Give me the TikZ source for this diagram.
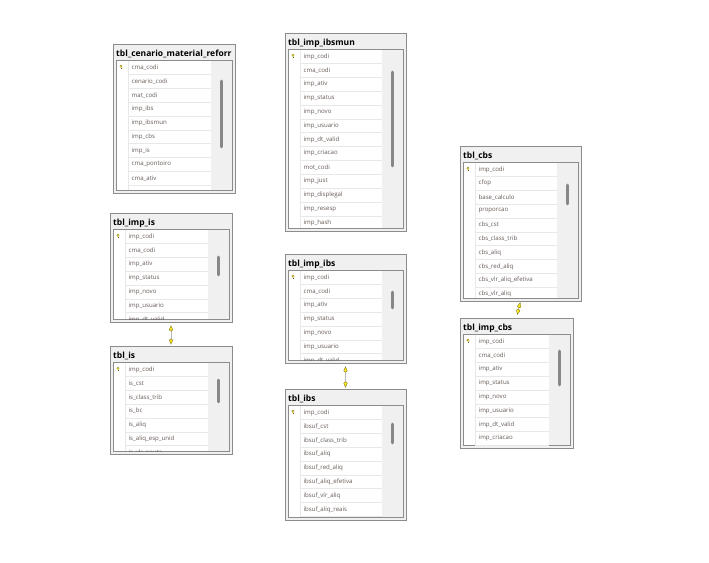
\documentclass[tikz,border=0pt]{standalone}
\usepackage{fontspec}
\setmainfont{Open Sans}
\usepackage{xcolor}
\usepackage{tikz}
\usetikzlibrary{fit,arrows.meta}
\definecolor{erdborder}{RGB}{140, 140, 140}
\definecolor{erdback}{RGB}{240, 240, 240}
\definecolor{erdrow}{RGB}{232, 232, 232}
\definecolor{erdtext}{RGB}{100, 90, 85}
\definecolor{erdthumb}{RGB}{135, 135, 135}
\definecolor{erdkey}{RGB}{250, 232, 30}
\definecolor{erdkeyline}{RGB}{110, 95, 20}

% table: name, left, top, right, bottom, title, columns, thumb top, thumb bottom
\newcommand{\erdtable}[9]{%
    \node[tblbox, fit={(#2,#3) (#4,#5)}] (#1) {};
    \begin{scope}
        \clip (#2,#3) rectangle (#4-2,#5);
        \node[tbltitle] (#1-title) at (#2+3,#3+10) {#6};
    \end{scope}
    \draw[innerbox] (#2+3,#3+16.5) rectangle (#4-3,#5-3);
    \fill[erdback] (#4-24,#3+17) rectangle (#4-3.5,#5-3.5);
    \begin{scope}
        \clip (#2+3,#3+16.5) rectangle (#4-3,#5-3);
        \foreach \col [count=\i] in {#7} {
            \node[coltxt] (#1-\i) at (#2+18.5,{#3+23.5+(\i-1)*13.85}) {\col};
            \draw[rowline] (#2+15,{#3+30.4+(\i-1)*13.85}) -- (#4-24,{#3+30.4+(\i-1)*13.85});
        }
        \draw[rowline] (#2+15,#3+16.5) -- (#2+15,#5-3);
    \end{scope}
    % key
    \fill[erdkey, draw=erdkeyline, line width=0.2pt] (#2+8,#3+22.3) circle (1.2);
    \draw[erdkeyline, line width=0.4pt] (#2+8,#3+23.6) -- (#2+8,#3+25.2);
    % scroll bar
    \draw[thumb] (#4-13.5,#8) -- (#4-13.5,#9);
}

\begin{document}
\begin{tikzpicture}[x=1pt, y=-1pt,
    tblbox/.style={draw=erdborder, fill=erdback, line width=0.8pt, inner sep=0pt},
    innerbox/.style={draw=erdborder, fill=white, line width=0.6pt},
    tbltitle/.style={anchor=west, inner sep=0pt, font=\fontsize{8.5}{10}\selectfont\bfseries},
    coltxt/.style={anchor=west, inner sep=0pt, text=erdtext, font=\fontsize{6.1}{7}\selectfont},
    rowline/.style={draw=erdrow, line width=0.4pt},
    thumb/.style={draw=erdthumb, line width=2.6pt, line cap=round},
    keytip/.tip={Kite[length=6pt, width=4pt, fill=erdkey, color=erdkeyline, line width=0.3pt]},
    relline/.style={draw=gray!55, line width=0.6pt, keytip-keytip}
]
    \useasboundingbox (0,0) rectangle (709,562);

    % Left column
    \erdtable{cenario}{113}{44}{235}{193}{tbl\_cenario\_material\_reforr}
        {cma\_codi,cenario\_codi,mat\_codi,imp\_ibs,imp\_ibsmun,imp\_cbs,imp\_is,cma\_pontoiro,cma\_ativ}{81}{147}
    \erdtable{impis}{110}{213}{232}{322}{tbl\_imp\_is}
        {imp\_codi,cma\_codi,imp\_ativ,imp\_status,imp\_novo,imp\_usuario,imp\_dt\_valid}{257}{275}
    \erdtable{is}{110}{346}{232}{454}{tbl\_is}
        {imp\_codi,is\_cst,is\_class\_trib,is\_bc,is\_aliq,is\_aliq\_esp\_unid,is\_vlr\_pauta}{380}{402}

    % Middle column
    \erdtable{ibsmun}{285}{33}{406}{231}{tbl\_imp\_ibsmun}
        {imp\_codi,cma\_codi,imp\_ativ,imp\_status,imp\_novo,imp\_usuario,imp\_dt\_valid,imp\_criacao,mot\_codi,imp\_just,imp\_displegal,imp\_resesp,imp\_hash}{72}{166}
    \erdtable{impibs}{285}{254}{406}{363}{tbl\_imp\_ibs}
        {imp\_codi,cma\_codi,imp\_ativ,imp\_status,imp\_novo,imp\_usuario,imp\_dt\_valid}{292}{308}
    \erdtable{ibs}{285}{389}{406}{520}{tbl\_ibs}
        {imp\_codi,ibsuf\_cst,ibsuf\_class\_trib,ibsuf\_aliq,ibsuf\_red\_aliq,ibsuf\_aliq\_efetiva,ibsuf\_vlr\_aliq,ibsuf\_aliq\_reais}{424}{443}

    % Right column
    \erdtable{cbs}{460}{146}{581}{301}{tbl\_cbs}
        {imp\_codi,cfop,base\_calculo,proporcao,cbs\_cst,cbs\_class\_trib,cbs\_aliq,cbs\_red\_aliq,cbs\_vlr\_aliq\_efetiva,cbs\_vlr\_aliq}{185}{204}
    \erdtable{impcbs}{460}{318}{573}{448}{tbl\_imp\_cbs}
        {imp\_codi,cma\_codi,imp\_ativ,imp\_status,imp\_novo,imp\_usuario,imp\_dt\_valid,imp\_criacao}{351}{385}

    % Relations
    \draw[relline, shorten <=3pt, shorten >=1pt] (impis.south) -- (is.north);
    \draw[relline, shorten <=3pt, shorten >=1pt] (impibs.south) -- (ibs.north);
    \draw[relline, shorten <=1pt, shorten >=3pt] (cbs.south) -- (impcbs.north);
\end{tikzpicture}
\end{document}
